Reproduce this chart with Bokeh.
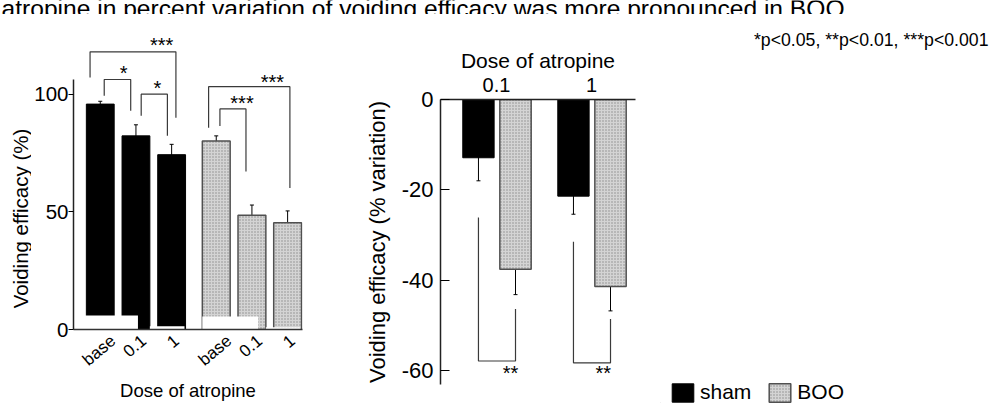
import math
from bokeh.plotting import figure
from bokeh.layouts import row, column
from bokeh.models import (Range1d, FixedTicker, Label, ColumnDataSource,
                          Whisker, TeeHead, Legend, LegendItem)
from bokeh.embed import file_html
from bokeh.resources import INLINE

FONT = "Liberation Sans"

# ---------------- data: left panel (voiding efficacy, %) ----------------
dose_labels = ["base", "0.1", "1"]
sham_pos = [1.0, 2.0, 3.0]
boo_pos = [4.25, 5.25, 6.25]
sham_ve = [95.8, 82.3, 74.3]
sham_ve_err = [1.2, 4.7, 4.4]
boo_ve = [80.1, 48.6, 45.4]
boo_ve_err = [2.2, 4.3, 5.0]

# white masking artefacts at the foot of the bars (data units)
mask_left = [0.28, 2.39, 3.86, 5.64]
mask_right = [2.056, 3.36, 5.425, 6.61]
mask_top = [6.0, 1.4, 5.5, 1.0]

# significance brackets, left panel
brk_xl = [0.714, 1.111, 2.147, 4.036, 4.353]
brk_yl = [107.1, 99.3, 90.8, 85.8, 86.5]
brk_xr = [3.12, 1.853, 2.881, 6.314, 5.083]
brk_yr = [90.0, 93.0, 82.4, 60.1, 67.1]
brk_yh = [118.0, 106.25, 100.0, 103.2, 93.75]
brk_stars = ["***", "*", "*", "***", "***"]
brk_star_x = [2.72, 1.658, 2.603, 5.825, 4.972]
brk_star_y = [121.7, 109.7, 103.5, 106.0, 96.96]

# ---------------- data: right panel (% variation) ----------------
var_doses = ["0.1", "1"]
var_group = [1.0, 2.0]
var_ticks = [-60, -40, -20, 0]
sham_var = [-12.9, -21.4]
sham_var_err = [5.1, 4.0]
boo_var = [-37.6, -41.4]
boo_var_err = [5.6, 5.4]

sig_xl = [0.81, 1.81]
sig_yl = [-26.1, -31.5]
sig_xr = [1.2, 2.2]
sig_yr = [-46.4, -48.6]
sig_yb = [-57.9, -58.3]
sig_stars = ["**", "**"]
sig_star_x = [1.147, 2.123]
sig_star_y = [-60.15, -60.15]

legend_labels = ["sham", "BOO"]
top_text = "atropine in percent variation of voiding efficacy was more pronounced in BOO."
p_text = "*p<0.05, **p<0.01, ***p<0.001"

# ---------------- styles ----------------
SHAM = dict(fill_color="black", line_color="black")
BOO = dict(fill_color="#d4d4d4", line_color="#505050", line_width=1.5,
           hatch_pattern="dot", hatch_color="#8c8c8c", hatch_scale=3, hatch_weight=1)
BRK = dict(line_color="#3a3a3a", line_width=1.2)
TOP_H = 14
ROW_H = 389
PX1 = 36.0      # px per x unit, left panel
PY1 = 2.4       # px per y unit, left panel
PY2 = 4.517     # px per y unit, right panel
STAR_DY = 2     # px: asterisk anchor sits this much below the wanted glyph centre
# horizontal shift (px) of each slanted tick label so that it is centred on its bar
LABEL_SHIFT = {"base": 13, "0.1": 8, "1": 5}


def plain_fig(width, height, **kw):
    p = figure(width=width, height=height, toolbar_location=None, output_backend="svg",
               frame_align=False, **kw)
    p.outline_line_color = None
    p.background_fill_color = "white"
    p.border_fill_color = "white"
    p.xgrid.visible = False
    p.ygrid.visible = False
    return p


def text_fig(w, h):
    return plain_fig(w, h, x_range=Range1d(0, w), y_range=Range1d(0, h),
                     min_border=0, x_axis_location=None, y_axis_location=None)


# ---------------- top strip ----------------
ft = text_fig(997, TOP_H)
ft.add_layout(Label(x=1, y=6, text=top_text, text_font=FONT, text_font_size="24.6px",
                    text_color="black", text_baseline="alphabetic"))

# ---------------- left panel: y-axis title ----------------
f1a = text_fig(31, ROW_H)
f1a.add_layout(Label(x=19.5, y=185, text="Voiding efficacy (%)", angle=math.pi / 2,
                     text_font=FONT, text_font_size="20.5px", text_align="center",
                     text_baseline="middle", text_color="black"))

# ---------------- left panel ----------------
f1 = plain_fig(309, ROW_H, x_range=Range1d(0.25, 6.667), y_range=Range1d(0, 127.08),
               min_border_left=40, min_border_right=38, min_border_top=16, min_border_bottom=68)
BW1 = 0.78
f1.vbar(x=sham_pos, top=sham_ve, bottom=0, width=BW1, **SHAM)
f1.vbar(x=boo_pos, top=boo_ve, bottom=0, width=BW1, **BOO)
f1.quad(left=mask_left, right=mask_right, bottom=[0] * len(mask_top), top=mask_top,
        fill_color="white", line_color=None)

for pos, v, e in ((sham_pos, sham_ve, sham_ve_err), (boo_pos, boo_ve, boo_ve_err)):
    src = ColumnDataSource(dict(x=pos, upper=[a + b for a, b in zip(v, e)],
                                lower=[a - b for a, b in zip(v, e)]))
    f1.add_layout(Whisker(source=src, base="x", upper="upper", lower="lower",
                          line_color="black", line_width=1,
                          upper_head=TeeHead(size=4, line_color="black", line_width=1),
                          lower_head=TeeHead(size=4, line_color="black", line_width=1)))

f1.multi_line(xs=[[a, a, b, b] for a, b in zip(brk_xl, brk_xr)],
              ys=[[a, h, h, b] for a, h, b in zip(brk_yl, brk_yh, brk_yr)], **BRK)
STAR1 = 20
for t, x, y in zip(brk_stars, brk_star_x, brk_star_y):
    f1.add_layout(Label(x=x, y=y - STAR_DY / PY1, text=t, text_font=FONT,
                        text_font_size=f"{STAR1}px", text_align="center",
                        text_baseline="alphabetic", text_color="black"))

positions = sham_pos + boo_pos
labels = dose_labels * 2
tick_vals = [p + LABEL_SHIFT[l] / PX1 for p, l in zip(positions, labels)]
xa1 = f1.xaxis[0]
xa1.ticker = FixedTicker(ticks=tick_vals)
xa1.major_label_overrides = {t: l for t, l in zip(tick_vals, labels)}
xa1.major_label_orientation = 0.7
xa1.major_tick_out = 0
xa1.major_tick_in = 0
xa1.minor_tick_line_color = None
xa1.major_label_standoff = 9
xa1.major_label_text_font = FONT
xa1.major_label_text_font_size = "17px"
xa1.major_label_text_color = "black"
xa1.axis_line_color = "#333333"
xa1.axis_line_width = 1.5
xa1.axis_label = "Dose of atropine"
xa1.axis_label_text_font = FONT
xa1.axis_label_text_font_size = "18.5px"
xa1.axis_label_text_font_style = "normal"
xa1.axis_label_text_color = "black"
xa1.axis_label_standoff = 0

ya1 = f1.yaxis[0]
ya1.ticker = FixedTicker(ticks=[0, 50, 100])
ya1.bounds = (0, 106.25)
ya1.axis_line_width = 1.5
ya1.axis_line_color = "#222222"
ya1.major_tick_out = 5
ya1.major_tick_in = 0
ya1.major_tick_line_width = 1.2
ya1.minor_tick_line_color = None
ya1.major_label_standoff = 0
ya1.major_label_text_font = FONT
ya1.major_label_text_font_size = "20.5px"
ya1.major_label_text_color = "black"

# ---------------- right panel ----------------
f2 = plain_fig(320, ROW_H, x_range=Range1d(0.4105, 2.463), y_range=Range1d(-63.1, 0),
               x_axis_location="above",
               min_border_left=100, min_border_right=25, min_border_top=85, min_border_bottom=19)
OFF_S, OFF_B, BW2 = -0.19, 0.20, 0.33
sx = [g + OFF_S for g in var_group]
bx = [g + OFF_B for g in var_group]
f2.vbar(x=sx, top=0, bottom=sham_var, width=BW2, **SHAM)
f2.vbar(x=bx, top=0, bottom=boo_var, width=BW2, **BOO)
for pos, v, e in ((sx, sham_var, sham_var_err), (bx, boo_var, boo_var_err)):
    src = ColumnDataSource(dict(x=pos, upper=[a + b for a, b in zip(v, e)],
                                lower=[a - b for a, b in zip(v, e)]))
    f2.add_layout(Whisker(source=src, base="x", upper="upper", lower="lower",
                          line_color="black", line_width=1,
                          upper_head=TeeHead(size=4, line_color="black", line_width=1),
                          lower_head=TeeHead(size=4, line_color="black", line_width=1)))
f2.multi_line(xs=[[a, a, b, b] for a, b in zip(sig_xl, sig_xr)],
              ys=[[a, h, h, b] for a, h, b in zip(sig_yl, sig_yb, sig_yr)], **BRK)
STAR2 = 20
for t, x, y in zip(sig_stars, sig_star_x, sig_star_y):
    f2.add_layout(Label(x=x, y=y - STAR_DY / PY2, text=t, text_font=FONT,
                        text_font_size=f"{STAR2}px", text_align="center",
                        text_baseline="alphabetic", text_color="black"))

xa = f2.xaxis[0]
xa.ticker = FixedTicker(ticks=var_group)
xa.major_label_overrides = {g: d for g, d in zip(var_group, var_doses)}
xa.major_tick_out = 0
xa.major_tick_in = 0
xa.minor_tick_line_color = None
xa.axis_line_width = 1.5
xa.axis_line_color = "#222222"
xa.major_label_standoff = 8
xa.major_label_text_font = FONT
xa.major_label_text_font_size = "20px"
xa.major_label_text_color = "black"
xa.axis_label = "Dose of atropine"
xa.axis_label_text_font = FONT
xa.axis_label_text_font_size = "21px"
xa.axis_label_text_font_style = "normal"
xa.axis_label_text_color = "black"
xa.axis_label_standoff = 3

ya = f2.yaxis[0]
ya.ticker = FixedTicker(ticks=var_ticks)
ya.major_label_overrides = {t: str(t) for t in var_ticks}
ya.major_tick_out = 0
ya.major_tick_in = 9
ya.major_tick_line_width = 1.2
ya.minor_tick_line_color = None
ya.axis_line_width = 1.5
ya.axis_line_color = "#222222"
ya.major_label_standoff = 7
ya.major_label_text_font = FONT
ya.major_label_text_font_size = "22px"
ya.major_label_text_color = "black"
ya.axis_label = "Voiding efficacy (% variation)"
ya.axis_label_text_font = FONT
ya.axis_label_text_font_size = "22px"
ya.axis_label_text_font_style = "normal"
ya.axis_label_text_color = "black"
ya.axis_label_standoff = 9

# ---------------- legend / note panel ----------------
f3 = text_fig(337, ROW_H)
# legend proxies: one bar each, placed outside the visible range
r_s = f3.vbar(x=[-500], top=[-500], bottom=[-501], width=1, **SHAM)
r_b = f3.vbar(x=[-500], top=[-500], bottom=[-501], width=1, **BOO)
leg = Legend(items=[LegendItem(label=legend_labels[0], renderers=[r_s]),
                    LegendItem(label=legend_labels[1], renderers=[r_b])],
             location=(9, -1), orientation="horizontal", glyph_width=27, glyph_height=23,
             label_height=23, label_standoff=4, spacing=15, padding=0, margin=0,
             border_line_color=None, background_fill_alpha=0,
             label_text_font=FONT, label_text_font_size="21px", label_text_color="black")
f3.add_layout(leg)
f3.add_layout(Label(x=328, y=364, text=p_text, text_font=FONT, text_font_size="17.7px",
                    text_align="right", text_baseline="alphabetic", text_color="black"))

layout = column(ft, row(f1a, f1, f2, f3, spacing=0), spacing=0)

open("out.html", "w").write(file_html(layout, INLINE))
